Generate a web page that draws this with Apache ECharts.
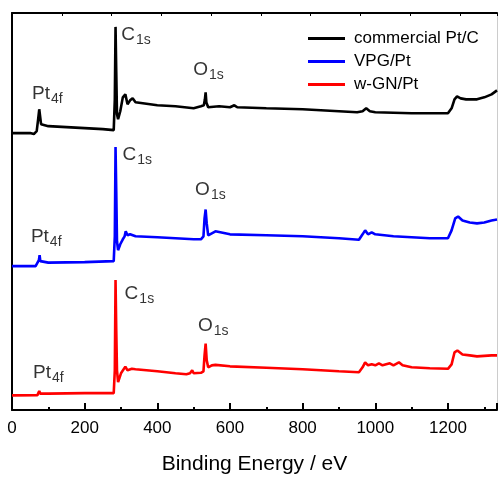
<!DOCTYPE html>
<html>
<head>
<meta charset="utf-8">
<script src="https://cdn.jsdelivr.net/npm/echarts@6/dist/echarts.min.js"></script>
<style>
  html, body { margin: 0; padding: 0; background: #fff; }
  #chart { width: 500px; height: 480px; }
</style>
</head>
<body>
<div id="chart"></div>
<script>
// binding energy (eV) / intensity (offset, arbitrary units)
const seriesNames = ['commercial Pt/C', 'VPG/Pt', 'w-GN/Pt'];
const xTicks = [0, 200, 400, 600, 800, 1000, 1200];

const ptcData = [
  [0, 279], [50, 279], [60, 278], [68, 281], [72, 293], [75, 303], [78, 301], [80, 288],
  [85, 286], [100, 286], [150, 285], [200, 284], [250, 283], [280, 282], [283, 313],
  [285, 386], [287, 340], [289, 298], [292, 293], [298, 301], [305, 315], [312, 318],
  [318, 308], [325, 312], [332, 314], [340, 310], [360, 309], [400, 307], [450, 306],
  [500, 304], [520, 306], [528, 307], [531, 313], [533, 320], [535, 310], [540, 305],
  [570, 306], [600, 305], [612, 307], [620, 305], [700, 304], [800, 303], [900, 301],
  [950, 300], [965, 301], [975, 304], [985, 301], [1000, 300], [1100, 299], [1150, 299],
  [1200, 299], [1210, 304], [1218, 313], [1225, 316], [1235, 314], [1250, 313],
  [1280, 313], [1300, 315], [1320, 318], [1335, 322]
];

const vpgData = [
  [0, 145], [65, 145], [70, 144], [74, 151], [76, 156], [78, 150], [80, 149], [100, 148.5],
  [200, 149], [280, 150], [283, 175], [285, 265], [287, 220], [289, 170], [292, 161],
  [298, 167], [305, 172], [310, 175], [313, 180], [318, 176], [325, 177], [340, 175],
  [400, 174], [500, 172], [520, 172], [527, 175], [530, 193], [533, 202], [536, 188],
  [540, 176], [550, 178], [560, 180], [600, 177], [700, 176], [800, 175], [900, 173],
  [955, 171.5], [965, 177], [972, 181], [980, 177], [990, 179], [1000, 177], [1050, 175],
  [1100, 174], [1150, 173], [1200, 173], [1210, 181], [1220, 193], [1228, 195],
  [1240, 191], [1260, 189], [1280, 188], [1300, 189], [1320, 191], [1335, 192]
];

const wgnData = [
  [0, 14.7], [70, 15], [75, 19], [78, 16.5], [100, 16.5], [200, 17], [280, 17], [283, 40],
  [285, 131], [287, 80], [289, 40], [292, 28], [300, 37], [312, 43.7], [318, 40],
  [330, 41.5], [340, 41], [400, 39], [450, 37], [480, 36], [490, 37], [496, 40], [500, 37],
  [520, 37.5], [527, 39], [530, 55], [533, 67], [536, 50], [540, 43], [550, 45], [560, 45.5],
  [600, 44], [700, 42.5], [800, 41], [900, 39], [955, 38], [965, 43], [972, 48], [980, 45],
  [990, 46], [1000, 45], [1010, 47], [1020, 45], [1040, 47], [1050, 45], [1065, 48],
  [1075, 45], [1100, 43], [1150, 42], [1200, 41.5], [1210, 46], [1218, 58], [1226, 60],
  [1240, 56], [1260, 55], [1280, 54], [1300, 54.5], [1320, 55], [1335, 55]
];

// peak annotations: [eV, intensity, element, subscript]
const peakLabels = [
  [55, 318, 'Pt', '4f'], [301, 377, 'C', '1s'], [499, 342, 'O', '1s'],
  [52, 174, 'Pt', '4f'], [304, 256, 'C', '1s'], [504, 221, 'O', '1s'],
  [58, 37, 'Pt', '4f'], [310, 116, 'C', '1s'], [512, 84, 'O', '1s']
];

const colors = ['#000000', '#0000ff', '#ff0000'];
const font = 'Liberation Sans, Arial, sans-serif';

const chart = echarts.init(document.getElementById('chart'));

function lineSeries(name, data) {
  return {
    name: name,
    type: 'line',
    data: data,
    showSymbol: false,
    symbol: 'none',
    lineStyle: { width: 2.6 },
    z: 3
  };
}

chart.setOption({
  animation: false,
  color: colors,
  grid: { left: 12, right: 1, top: 13, bottom: 67 },
  legend: {
    data: seriesNames,
    orient: 'vertical',
    left: 303,
    top: 25,
    icon: 'rect',
    itemWidth: 37,
    itemHeight: 3,
    itemGap: 6,
    textStyle: { fontFamily: font, fontSize: 17, color: '#000', padding: [0, 0, 0, 4] }
  },
  xAxis: [
    {
      type: 'value',
      min: 0,
      max: 1335,
      interval: 200,
      position: 'bottom',
      name: 'Binding Energy / eV',
      nameLocation: 'middle',
      nameGap: 44,
      nameTextStyle: { fontFamily: font, fontSize: 21, color: '#000' },
      axisLine: { onZero: false, lineStyle: { color: '#000', width: 2 } },
      axisTick: { inside: true, length: 7, lineStyle: { color: '#000', width: 2 } },
      minorTick: { show: true, splitNumber: 2, length: 3, lineStyle: { color: '#000', width: 2 } },
      axisLabel: {
        fontFamily: font, fontSize: 17, color: '#000', margin: 10,
        formatter: v => (xTicks.includes(v) ? String(v) : '')
      },
      splitLine: { show: false }
    },
    {
      type: 'value',
      min: 0,
      max: 1335,
      interval: 137,
      position: 'top',
      axisLine: { show: true, onZero: false, lineStyle: { color: '#000', width: 2 } },
      axisTick: { inside: true, length: 3, lineStyle: { color: '#000', width: 1 } },
      axisLabel: { show: false },
      splitLine: { show: false }
    }
  ],
  yAxis: [
    {
      type: 'value',
      min: 0,
      max: 400,
      position: 'left',
      axisLine: { show: true, onZero: false, lineStyle: { color: '#000', width: 2 } },
      axisTick: { show: false },
      axisLabel: { show: false },
      splitLine: { show: false }
    },
    {
      type: 'value',
      min: 0,
      max: 400,
      position: 'right',
      axisLine: { show: true, onZero: false, lineStyle: { color: '#cccccc', width: 1 } },
      axisTick: { show: false },
      axisLabel: { show: false },
      splitLine: { show: false }
    }
  ],
  series: [
    lineSeries(seriesNames[0], ptcData),
    lineSeries(seriesNames[1], vpgData),
    lineSeries(seriesNames[2], wgnData),
    {
      type: 'scatter',
      symbolSize: 0,
      silent: true,
      data: peakLabels,
      label: {
        show: true,
        position: 'right',
        distance: 0,
        color: '#000',
        fontFamily: font,
        formatter: p => `{m|${p.data[2]}}{s|${p.data[3]}}`,
        rich: {
          m: { fontFamily: font, fontSize: 19, color: '#000', lineHeight: 21, verticalAlign: 'top' },
          s: { fontFamily: font, fontSize: 14, color: '#000', lineHeight: 14, padding: [9, 0, 0, 1] }
        }
      },
      z: 4
    }
  ]
});

window.addEventListener('resize', () => chart.resize());
</script>
</body>
</html>
